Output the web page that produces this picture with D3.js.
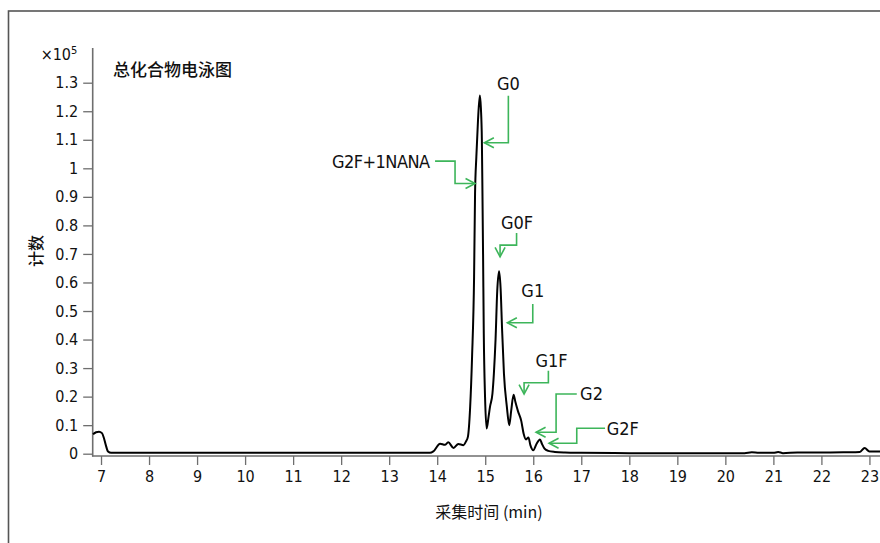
<!DOCTYPE html>
<html><head><meta charset="utf-8">
<script src="https://cdn.jsdelivr.net/npm/d3@7"></script>
<style>
html,body{margin:0;padding:0;background:#fff;}
svg{display:block;}
</style></head>
<body>
<svg id="chart" width="880" height="543"></svg>
<script>
// ---- data ----
const times = [6.833,6.896,6.958,7.02,7.06,7.10,7.146,7.21,8,9,10,11,12,13,13.85,13.92,14.06,14.16,14.23,14.34,14.44,14.545,14.60,14.64,14.685,14.726,14.768,14.788,14.815,14.85,14.888,14.91,14.93,14.943,14.955,14.97,14.996,15.03,15.07,15.10,15.15,15.18,15.215,15.25,15.288,15.32,15.35,15.39,15.45,15.50,15.54,15.59,15.63,15.68,15.75,15.80,15.85,15.90,15.94,16.0,16.07,16.14,16.18,16.235,16.31,16.45,16.66,17,18,19,20,20.4,20.55,20.7,21.0,21.1,21.2,21.5,22,22.5,22.8,22.9,23.0,23.22];
const counts = [0.068,0.075,0.077,0.072,0.055,0.03,0.008,0.003,0.003,0.003,0.003,0.003,0.003,0.003,0.003,0.008,0.035,0.031,0.04,0.02,0.034,0.03,0.043,0.06,0.16,0.34,0.62,0.91,1.04,1.17,1.255,1.21,1.10,0.90,0.70,0.42,0.20,0.088,0.13,0.165,0.21,0.28,0.40,0.57,0.639,0.58,0.44,0.28,0.165,0.10,0.15,0.207,0.18,0.15,0.115,0.07,0.05,0.057,0.03,0.012,0.035,0.05,0.035,0.018,0.01,0.006,0.004,0.003,0.002,0.002,0.002,0.002,0.005,0.003,0.003,0.006,0.002,0.004,0.004,0.005,0.006,0.02,0.008,0.008];
const xTicks = [7,8,9,10,11,12,13,14,15,16,17,18,19,20,21,22,23];
const yTicks = [0,0.1,0.2,0.3,0.4,0.5,0.6,0.7,0.8,0.9,1,1.1,1.2,1.3];
const peakNames = ["G0","G2F+1NANA","G0F","G1","G1F","G2","G2F"];
const peakTimes = [14.982,14.788,15.309,15.461,15.809,16.059,16.329];
const peakCounts = [1.0897,0.947,0.690,0.459,0.209,0.075,0.0364];
const titleText = "总化合物电泳图";
const xLabel = "采集时间 (min)";
const yLabel = "计数";

// ---- layout / styles ----
const latin = "'Liberation Sans Narrow','DejaVu Sans Condensed','Arial Narrow',sans-serif";
const cjk = "'Noto Sans CJK SC','Liberation Sans Narrow',sans-serif";
const green = "#3db55a";
const axisColor = "#6e6e6e";

// annotation geometry: arrow direction + leader path offsets (px) + label placement
const annot = {
  "G0":        {dir:"left",  path:[[0,0],[24,0],[24,-47]], label:[24,-59], anchor:"middle"},
  "G2F+1NANA": {dir:"right", path:[[0,0],[-20,0],[-20,-22.3],[-40,-22.3]], label:[-45,-22.3], anchor:"end", len:98},
  "G0F":       {dir:"down",  path:[[0,0],[0,-11.7],[16.5,-11.7],[16.5,-23.7]], label:[17,-34], anchor:"middle"},
  "G1":        {dir:"left",  path:[[0,0],[25.4,0],[25.4,-18.7]], label:[25.4,-32], anchor:"middle"},
  "G1F":       {dir:"down",  path:[[0,0],[0,-11.3],[24.3,-11.3],[24.3,-23.3]], label:[27.5,-34], anchor:"middle"},
  "G2":        {dir:"left",  path:[[0,0],[20,0],[20,-38.3],[40.7,-38.3]], label:[44,-38.3], anchor:"start"},
  "G2F":       {dir:"left",  path:[[0,0],[27.7,0],[27.7,-15],[56,-15]], label:[57.7,-15], anchor:"start"}
};

const svg = d3.select("#chart");

// frame
svg.append("rect").attr("x",8.5).attr("y",11).attr("width",900).attr("height",600)
  .attr("fill","none").attr("stroke","#555").attr("stroke-width",1.6);

const x = d3.scaleLinear().domain([6.833,23.22]).range([93,880]);
const y = d3.scaleLinear().domain([0,1.3]).range([453.7,82.7]);

// y axis
const yAxis = d3.axisLeft(y).tickValues(yTicks).tickSize(9.5).tickPadding(5)
  .tickFormat(d=>String(d));
const gy = svg.append("g").attr("transform","translate(92.7,0)").call(yAxis);
gy.select(".domain").remove();
gy.selectAll(".tick line").attr("stroke",axisColor).attr("stroke-width",1.3);
gy.selectAll(".tick text").attr("font-family",latin).attr("font-size",16).attr("fill","#111");
svg.append("line").attr("x1",92.7).attr("x2",92.7).attr("y1",48).attr("y2",456.5)
  .attr("stroke",axisColor).attr("stroke-width",1.6);

// x axis
const xAxis = d3.axisBottom(x).tickValues(xTicks).tickSize(9).tickPadding(6).tickFormat(d=>String(d));
const gx = svg.append("g").attr("transform","translate(0,456)").call(xAxis);
gx.select(".domain").remove();
gx.selectAll(".tick line").attr("stroke",axisColor).attr("stroke-width",1.3);
gx.selectAll(".tick text").attr("font-family",latin).attr("font-size",16).attr("fill","#111");
svg.append("line").attr("x1",92).attr("x2",880).attr("y1",456).attr("y2",456)
  .attr("stroke",axisColor).attr("stroke-width",1.6);

// trace
const pts = times.map((t,i)=>[t,counts[i]]);
const line = d3.line().x(d=>x(d[0])).y(d=>y(d[1])).curve(d3.curveMonotoneX);
svg.append("path").datum(pts).attr("d",line).attr("fill","none")
  .attr("stroke","#000").attr("stroke-width",2).attr("stroke-linejoin","round");

// annotations
peakNames.forEach((name,i)=>{
  const a = annot[name];
  const tx = x(peakTimes[i]), ty = y(peakCounts[i]);
  const g = svg.append("g").attr("transform",`translate(${tx},${ty})`);
  g.append("path").attr("d",d3.line()(a.path)).attr("fill","none")
    .attr("stroke",green).attr("stroke-width",1.6);
  let arms;
  if(a.dir==="left") arms=[[9.5,-5],[0,0],[9.5,5]];
  else if(a.dir==="right") arms=[[-9.5,-5],[0,0],[-9.5,5]];
  else arms=[[-5,-9.5],[0,0],[5,-9.5]];
  g.append("path").attr("d",d3.line()(arms)).attr("fill","none")
    .attr("stroke",green).attr("stroke-width",1.6).attr("stroke-linejoin","miter");
  const t = g.append("text").attr("x",a.label[0]).attr("y",a.label[1])
    .attr("dy","0.36em").attr("text-anchor",a.anchor)
    .attr("font-family",latin).attr("font-size",18).attr("fill","#111").text(name);
  if(a.len) t.attr("textLength",a.len).attr("lengthAdjust","spacing");
});

// titles and labels
svg.append("text").attr("x",113).attr("y",76).attr("font-family",cjk).attr("font-size",17)
  .attr("font-weight",500).attr("fill","#111").text(titleText);
svg.append("text").attr("x",489).attr("y",518).attr("text-anchor","middle")
  .attr("font-family",cjk).attr("font-size",16).attr("fill","#111").text(xLabel);
svg.append("text").attr("transform","translate(42,251) rotate(-90)").attr("text-anchor","middle")
  .attr("font-family",cjk).attr("font-size",16).attr("font-weight",500).attr("fill","#111").text(yLabel);
const sc = svg.append("text").attr("x",71).attr("y",60).attr("text-anchor","end")
  .attr("font-family",latin).attr("font-size",16).attr("fill","#111");
sc.append("tspan").text("×10");
svg.append("text").attr("x",71).attr("y",54).attr("font-family",latin).attr("font-size",11)
  .attr("fill","#111").text("5");
</script>
</body></html>
